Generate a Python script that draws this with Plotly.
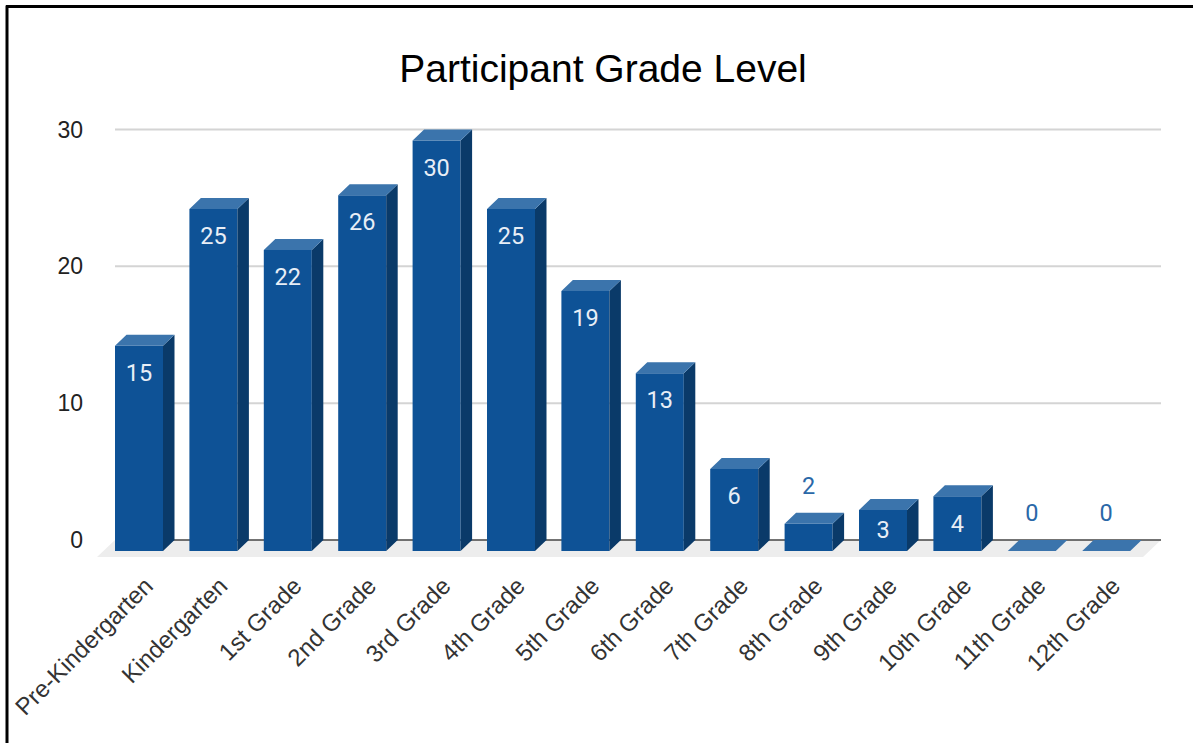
import plotly.graph_objects as go

categories = ["Pre-Kindergarten", "Kindergarten", "1st Grade", "2nd Grade", "3rd Grade",
              "4th Grade", "5th Grade", "6th Grade", "7th Grade", "8th Grade",
              "9th Grade", "10th Grade", "11th Grade", "12th Grade"]
participants = [15, 25, 22, 26, 30, 25, 19, 13, 6, 2, 3, 4, 0, 0]
y_ticks = [0, 10, 20, 30]

W, H = 1193, 743
PLOT_L, PLOT_R, PLOT_T, PLOT_B = 90, 1170, 124.4, 561.9
PX_X = 74.4          # pixels per category
PX_Y = 13.67         # pixels per unit
X0 = 139             # pixel of category 0's front-face centre
Y0 = 540             # pixel of value 0

x_range = [(PLOT_L - X0) / PX_X, (PLOT_R - X0) / PX_X]
y_range = [(Y0 - PLOT_B) / PX_Y, (Y0 - PLOT_T) / PX_Y]

bar_w = 48 / PX_X
dx = 11.5 / PX_X
dy = 11 / PX_Y

FRONT, SIDE, TOP = "#0e5296", "#0a3a69", "#3b74ac"
idx = list(range(len(categories)))

side_x, side_y, top_x, top_y = [], [], [], []
for i, v in zip(idx, participants):
    l, r = i - bar_w / 2, i + bar_w / 2
    top_x += [l, r, r + dx, l + dx, l, None]
    top_y += [v - dy, v - dy, v, v, v - dy, None]
    if v > 0:
        side_x += [r, r + dx, r + dx, r, r, None]
        side_y += [-dy, 0, v, v - dy, -dy, None]

fig = go.Figure()

fx0, fx1 = (115 - X0) / PX_X, (1161 - X0) / PX_X
fdx, fdy = 18 / PX_X, 17 / PX_Y

fig.add_trace(go.Bar(x=idx, y=participants, base=-dy, width=bar_w,
                     marker=dict(color=FRONT, line=dict(width=0)), showlegend=False,
                     hovertemplate="%{x}: %{y}<extra></extra>"))
fig.add_trace(go.Scatter(x=side_x, y=side_y, mode="lines", fill="toself", fillcolor=SIDE,
                         line=dict(width=0), hoverinfo="skip", showlegend=False))
fig.add_trace(go.Scatter(x=top_x, y=top_y, mode="lines", fill="toself", fillcolor=TOP,
                         line=dict(width=0), hoverinfo="skip", showlegend=False))

inside = [v >= 3 for v in participants]
fig.add_trace(go.Scatter(
    x=[i for i, k in zip(idx, inside) if k],
    y=[max(v - 2.95, 0.6) for v, k in zip(participants, inside) if k],
    text=[str(v) for v, k in zip(participants, inside) if k],
    mode="text", textposition="middle center",
    textfont=dict(family="Roboto", size=23.5, color="#e8eef6"),
    hoverinfo="skip", showlegend=False))
fig.add_trace(go.Scatter(
    x=[i for i, k in zip(idx, inside) if not k],
    y=[v + 1.8 for v, k in zip(participants, inside) if not k],
    text=[str(v) for v, k in zip(participants, inside) if not k],
    mode="text", textposition="middle center",
    textfont=dict(family="Roboto", size=23.5, color="#2a68a8"),
    hoverinfo="skip", showlegend=False))

shapes = [
    dict(type="path", xref="x", yref="y",
         path=f"M {fx0} 0 L {fx1} 0 L {fx1 - fdx} {-fdy} L {fx0 - fdx} {-fdy} Z",
         fillcolor="#ededed", line=dict(width=0), layer="below"),
    dict(type="line", xref="x", yref="y", x0=fx0, x1=fx1, y0=0, y1=0,
         line=dict(color="#444444", width=1.5), layer="below"),
]
for t in y_ticks:
    if t != 0:
        shapes.append(dict(type="line", xref="x", yref="y", x0=fx0, x1=fx1, y0=t, y1=t,
                           line=dict(color="#d4d4d4", width=2), layer="below"))


def px(v):
    return (v - PLOT_L) / (PLOT_R - PLOT_L)


def py(v):
    return 1 - (v - PLOT_T) / (PLOT_B - PLOT_T)


# picture frame, top and left only
shapes.append(dict(type="line", xref="paper", yref="paper", x0=px(6), x1=px(W), y0=py(7), y1=py(7),
                   line=dict(color="#000000", width=3)))
shapes.append(dict(type="line", xref="paper", yref="paper", x0=px(7), x1=px(7), y0=py(6), y1=py(H),
                   line=dict(color="#000000", width=3)))

label_shift = 7 / PX_X

fig.update_layout(
    width=W, height=H, autosize=False,
    margin=dict(l=PLOT_L, r=W - PLOT_R, t=PLOT_T, b=H - PLOT_B, pad=0),
    paper_bgcolor="#ffffff", plot_bgcolor="#ffffff",
    font=dict(family="Liberation Sans", color="#222222"),
    title=dict(text="Participant Grade Level", x=603 / W, xref="container", xanchor="center",
               y=1 - 68 / H, yref="container", yanchor="middle",
               font=dict(family="Liberation Sans", size=39, color="#000000")),
    shapes=shapes,
    showlegend=False,
    xaxis=dict(range=x_range, tickmode="array", tickvals=[i + label_shift for i in idx],
               ticktext=categories, tickangle=-45, automargin=False, ticklabelstandoff=4,
               showgrid=False, zeroline=False, showline=False, ticks="",
               tickfont=dict(size=24, color="#333333")),
    yaxis=dict(range=y_range, tickmode="array", tickvals=y_ticks, showgrid=False, zeroline=False,
               showline=False, ticks="", ticklabelstandoff=6, automargin=False,
               tickfont=dict(size=23, color="#222222")),
)

fig.write_html("out.html", config={"displayModeBar": False},
               post_script="document.body.style.margin='0';document.body.style.overflow='hidden';")
